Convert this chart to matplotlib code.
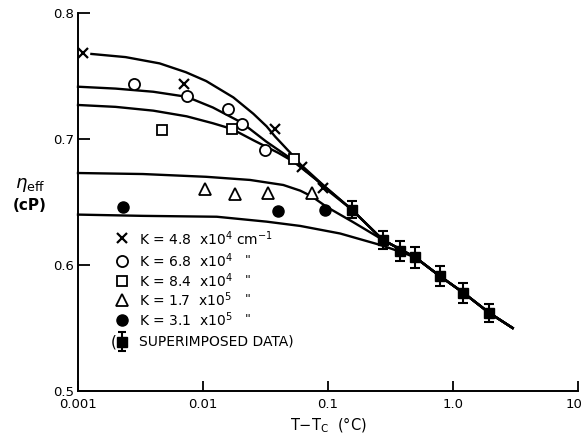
import matplotlib.pyplot as plt
import matplotlib.transforms as mtransforms

# measured points, one list pair per wavevector K
x_k1 = [0.0011, 0.0070, 0.038, 0.062, 0.092]
y_k1 = [0.768, 0.744, 0.708, 0.678, 0.661]
x_k2 = [0.0028, 0.0074, 0.0159, 0.0204, 0.0313]
y_k2 = [0.744, 0.734, 0.724, 0.712, 0.691]
x_k3 = [0.0047, 0.017, 0.053]
y_k3 = [0.707, 0.708, 0.684]
x_k4 = [0.0104, 0.018, 0.033, 0.074]
y_k4 = [0.660, 0.656, 0.657, 0.657]
x_k5 = [0.0023, 0.040, 0.095]
y_k5 = [0.646, 0.643, 0.644]

# superimposed data with error bars
x_sup = [0.155, 0.274, 0.377, 0.50, 0.79, 1.21, 1.95]
y_sup = [0.644, 0.620, 0.611, 0.606, 0.591, 0.578, 0.562]
err_sup = [0.007, 0.007, 0.008, 0.008, 0.008, 0.008, 0.007]

# fitted curves (common tail at large T-Tc)
tail_x = [0.274, 0.50, 0.79, 1.21, 1.95, 3.0]
tail_y = [0.620, 0.606, 0.591, 0.578, 0.562, 0.550]
curve_a_x = [0.00128, 0.0024, 0.0045, 0.0073, 0.0106, 0.0175, 0.0253, 0.0323, 0.0377, 0.050, 0.060, 0.095, 0.155] + tail_x
curve_a_y = [0.7675, 0.765, 0.760, 0.753, 0.746, 0.733, 0.720, 0.710, 0.702, 0.689, 0.680, 0.662, 0.644] + tail_y
curve_b_x = [0.001, 0.002, 0.004, 0.0074, 0.012, 0.0204, 0.032, 0.053, 0.08, 0.10, 0.155] + tail_x
curve_b_y = [0.7415, 0.740, 0.7375, 0.7335, 0.725, 0.713, 0.698, 0.683, 0.668, 0.660, 0.644] + tail_y
curve_c_x = [0.001, 0.002, 0.004, 0.0074, 0.012, 0.017, 0.0253, 0.04, 0.053, 0.08, 0.10, 0.155] + tail_x
curve_c_y = [0.727, 0.7255, 0.7225, 0.718, 0.7125, 0.708, 0.699, 0.689, 0.682, 0.668, 0.659, 0.644] + tail_y
curve_d_x = [0.001, 0.0033, 0.0106, 0.0238, 0.0439, 0.060, 0.074, 0.098, 0.159] + tail_x
curve_d_y = [0.673, 0.6722, 0.670, 0.6675, 0.6635, 0.659, 0.6545, 0.646, 0.634] + tail_y
curve_e_x = [0.001, 0.0033, 0.0129, 0.0323, 0.060, 0.125, 0.26, 0.377] + tail_x[1:]
curve_e_y = [0.640, 0.639, 0.6383, 0.6344, 0.631, 0.625, 0.616, 0.6106] + tail_y[1:]

legend_labels = ['K = 4.8  x10$^4$ cm$^{-1}$', 'K = 6.8  x10$^4$', 'K = 8.4  x10$^4$',
                 'K = 1.7  x10$^5$', 'K = 3.1  x10$^5$', 'SUPERIMPOSED DATA)']

fig = plt.figure(figsize=(5.84, 4.34), dpi=100)
ax = fig.add_axes([78/584, 43/434, 500/584, 378/434])

for cx, cy in [(curve_a_x, curve_a_y), (curve_b_x, curve_b_y), (curve_c_x, curve_c_y),
               (curve_d_x, curve_d_y), (curve_e_x, curve_e_y)]:
    ax.plot(cx, cy, color='black', lw=1.7, clip_on=False, solid_joinstyle='round')

ax.plot(x_k1, y_k1, 'x', color='black', ms=7, mew=1.6, clip_on=False)
ax.plot(x_k2, y_k2, 'o', mfc='white', mec='black', ms=8, mew=1.3)
ax.plot(x_k3, y_k3, 's', mfc='white', mec='black', ms=7.5, mew=1.3)
ax.plot(x_k4, y_k4, '^', mfc='white', mec='black', ms=8.5, mew=1.3)
ax.plot(x_k5, y_k5, 'o', color='black', ms=8)
ax.errorbar(x_sup, y_sup, yerr=err_sup, fmt='s', color='black', ms=7,
            capsize=3.5, elinewidth=1.5, capthick=1.5)

ax.set_xscale('log')
ax.set_xlim(0.001, 10)
ax.set_ylim(0.5, 0.8)
ax.set_xticks([0.001, 0.01, 0.1, 1, 10])
ax.set_xticklabels(['0.001', '0.01', '0.1', '1.0', '10'])
ax.set_yticks([0.5, 0.6, 0.7, 0.8])
ax.set_yticklabels(['0.5', '0.6', '0.7', '0.8'])
ax.minorticks_off()
ax.tick_params(axis='x', direction='in', length=7, width=1.3, labelsize=9.5, pad=5)
ax.tick_params(axis='y', direction='in', length=8.5, width=1.3, labelsize=9.5, pad=3)
for s in ['top', 'right']:
    ax.spines[s].set_visible(False)
for s in ['left', 'bottom']:
    ax.spines[s].set_linewidth(1.4)

# keep the "10" label inside the figure edge
last = ax.get_xticklabels()[-1]
last.set_transform(last.get_transform() + mtransforms.ScaledTranslation(-4/100, 0, fig.dpi_scale_trans))

# hand-drawn style legend
rows = [0.404, 0.345, 0.292, 0.241, 0.188, 0.130]
styles = [dict(marker='x', color='black', ms=7, mew=1.6),
          dict(marker='o', mfc='white', mec='black', ms=8, mew=1.3),
          dict(marker='s', mfc='white', mec='black', ms=7.5, mew=1.3),
          dict(marker='^', mfc='white', mec='black', ms=8.5, mew=1.3),
          dict(marker='o', color='black', ms=8)]
for r, st, lab in zip(rows, styles, legend_labels):
    ax.plot([0.087], [r], transform=ax.transAxes, ls='none', **st)
    ax.text(0.122, r, lab, transform=ax.transAxes, va='center', ha='left', fontsize=10)
for r in rows[1:5]:
    ax.text(0.334, r, '"', transform=ax.transAxes, va='center', ha='left', fontsize=9)
ax.errorbar([0.087], [rows[5]], yerr=[0.025], transform=ax.transAxes, fmt='s', color='black',
            ms=7, capsize=3, elinewidth=1.5, capthick=1.5)
ax.text(0.066, rows[5], '(', transform=ax.transAxes, va='center', ha='left', fontsize=11)
ax.text(0.122, rows[5], legend_labels[5], transform=ax.transAxes, va='center', ha='left', fontsize=10)

fig.text(30/584, 1 - 185/434, r'$\eta_{\rm eff}$', ha='center', va='center', fontsize=13)
fig.text(30/584, 1 - 205/434, '(cP)', ha='center', va='center', fontsize=11, fontweight='bold')
ax.set_xlabel('T$-$T$_{\\rm C}$  (°C)', fontsize=10.5, labelpad=3)

plt.savefig('out.png', dpi=100)
